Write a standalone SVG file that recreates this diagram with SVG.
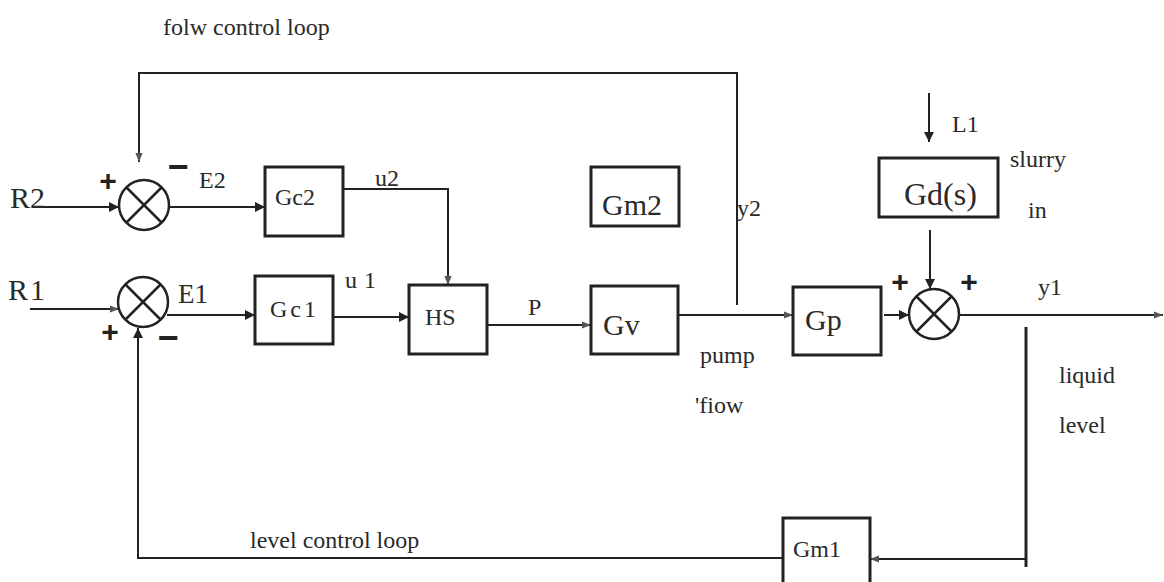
<svg xmlns="http://www.w3.org/2000/svg" width="1164" height="582" viewBox="0 0 1164 582">
<defs>
<marker id="arr" viewBox="0 0 10 10" refX="10" refY="5" markerWidth="6" markerHeight="6" orient="auto" markerUnits="userSpaceOnUse">
<path d="M0,0 L10,5 L0,10 z" fill="#222"/>
</marker>
<marker id="arrL" viewBox="0 0 10 10" refX="10" refY="5" markerWidth="12" markerHeight="10" orient="auto" markerUnits="userSpaceOnUse">
<path d="M0,0 L10,5 L0,10 z" fill="#222"/>
</marker>
<marker id="arrS" viewBox="0 0 10 10" refX="10" refY="5" markerWidth="10" markerHeight="9" orient="auto" markerUnits="userSpaceOnUse">
<path d="M0,1 L10,5 L0,9 z" fill="#555"/>
</marker>
</defs>
<style>
.box{fill:#fff;stroke:#222;stroke-width:3}
.sum{fill:#fff;stroke:#222;stroke-width:2.5}
.x{stroke:#222;stroke-width:2.5}
.ln{fill:none;stroke:#222;stroke-width:2}
.t{font-family:"Liberation Serif","Times New Roman",serif;font-size:24px;fill:#2a2a2a}
.big{font-size:30px}
.sg{font-family:"Liberation Sans",Arial,sans-serif;font-weight:bold;fill:#222;text-anchor:middle}
.pl{font-size:30px}
.mi{font-size:36px}
</style>
<rect width="1164" height="582" fill="#fff"/>

<g id="connectors">
<path class="ln" d="M737,305 V73 H139 V162" marker-end="url(#arrS)"/>
<path class="ln" d="M40,207 H119" marker-end="url(#arrL)"/>
<path class="ln" d="M169,207 H265" marker-end="url(#arrL)"/>
<path class="ln" d="M343,189 H448 V285" marker-end="url(#arrS)"/>
<path class="ln" d="M30,309 H119" marker-end="url(#arrS)"/>
<path class="ln" d="M167,315 H255" marker-end="url(#arrL)"/>
<path class="ln" d="M333,317 H409" marker-end="url(#arrL)"/>
<path class="ln" d="M487,325 H591" marker-end="url(#arrS)"/>
<path class="ln" d="M678,315 H793" marker-end="url(#arrS)"/>
<path class="ln" d="M884,315 H909" marker-end="url(#arrL)"/>
<path class="ln" d="M930,230 V289" marker-end="url(#arrL)"/>
<path class="ln" d="M929,93 V142" marker-end="url(#arrL)"/>
<path class="ln" d="M959,315 H1163" marker-end="url(#arrS)"/>
<path class="ln" d="M1026,327 V567" style="stroke-width:3"/>
<path class="ln" d="M1026,559 H870" marker-end="url(#arrS)"/>
<path class="ln" d="M783,558 H138 V328" marker-end="url(#arrL)"/>
</g>

<g id="sum2">
<circle class="sum" cx="144" cy="205" r="25"/>
<line class="x" x1="126" y1="187" x2="162" y2="223"/>
<line class="x" x1="162" y1="187" x2="126" y2="223"/>
<text class="sg pl" x="108" y="191">+</text>
<text class="sg mi" x="178" y="179">−</text>
</g>
<g id="sum1">
<circle class="sum" cx="143" cy="302" r="25"/>
<line class="x" x1="125" y1="284" x2="161" y2="320"/>
<line class="x" x1="161" y1="284" x2="125" y2="320"/>
<text class="sg pl" x="110" y="342">+</text>
<text class="sg mi" x="168" y="350">−</text>
</g>
<g id="sum3">
<circle class="sum" cx="934" cy="314" r="25"/>
<line class="x" x1="916" y1="296" x2="952" y2="332"/>
<line class="x" x1="952" y1="296" x2="916" y2="332"/>
<text class="sg pl" x="900" y="292">+</text>
<text class="sg pl" x="969" y="292">+</text>
</g>

<g id="Gc2"><rect class="box" x="265" y="167" width="78" height="69"/><text class="t" x="275" y="205">Gc2</text></g>
<g id="Gc1"><rect class="box" x="255" y="276" width="78" height="68"/><text class="t" x="270" y="317" letter-spacing="3">Gc1</text></g>
<g id="HS"><rect class="box" x="409" y="285" width="78" height="69"/><text class="t" x="425" y="325">HS</text></g>
<g id="Gv"><rect class="box" x="591" y="286" width="87" height="68"/><text class="t big" x="603" y="335">Gv</text></g>
<g id="Gm2"><rect class="box" x="591" y="167" width="88" height="59"/><text class="t big" x="602" y="215">Gm2</text></g>
<g id="Gp"><rect class="box" x="793" y="287" width="88" height="68"/><text class="t big" x="805" y="330">Gp</text></g>
<g id="Gd"><rect class="box" x="879" y="158" width="119" height="59"/><text class="t" x="904" y="205" style="font-size:32px">Gd(s)</text></g>
<g id="Gm1"><rect class="box" x="783" y="518" width="87" height="80"/><text class="t" x="793" y="557">Gm1</text></g>

<g id="labels">
<text class="t" x="163" y="35">folw control loop</text>
<text class="t" x="250" y="548">level control loop</text>
<text class="t big" x="10" y="208">R2</text>
<text class="t big" x="8" y="300" letter-spacing="2">R1</text>
<text class="t" x="199" y="188">E2</text>
<text class="t" x="178" y="303" style="font-size:27px">E1</text>
<text class="t" x="375" y="186">u2</text>
<text class="t" x="345" y="288" letter-spacing="7">u1</text>
<text class="t" x="528" y="315">P</text>
<text class="t" x="737" y="216">y2</text>
<text class="t" x="700" y="363">pump</text>
<text class="t" x="695" y="413">'fiow</text>
<text class="t" x="952" y="132">L1</text>
<text class="t" x="1010" y="167">slurry</text>
<text class="t" x="1028" y="218">in</text>
<text class="t" x="1038" y="295">y1</text>
<text class="t" x="1059" y="383">liquid</text>
<text class="t" x="1059" y="433">level</text>
</g>
</svg>
